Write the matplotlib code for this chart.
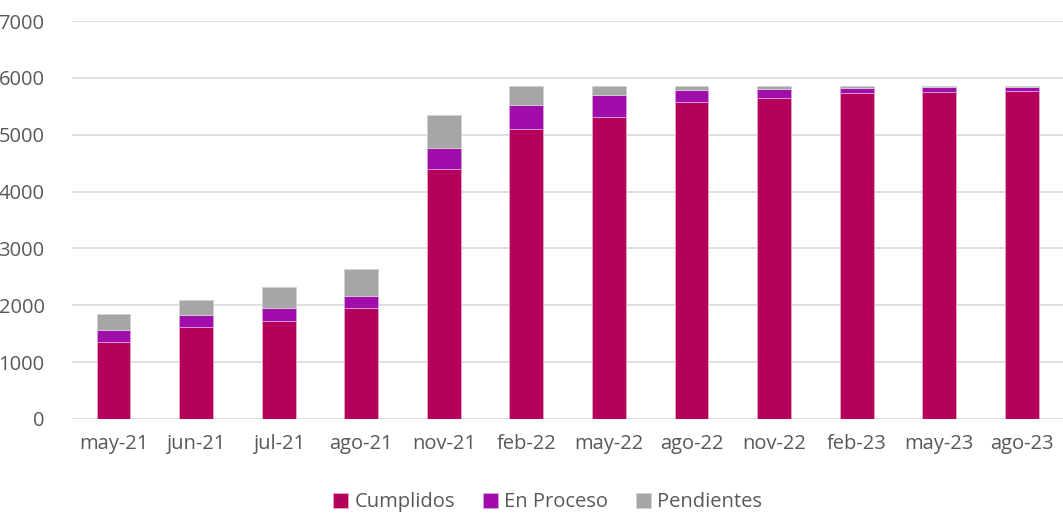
import matplotlib.pyplot as plt
import numpy as np

meses = ["may-21", "jun-21", "jul-21", "ago-21", "nov-21", "feb-22",
         "may-22", "ago-22", "nov-22", "feb-23", "may-23", "ago-23"]
cumplidos = [1350, 1615, 1720, 1945, 4400, 5105, 5320, 5580, 5645, 5735, 5760, 5775]
en_proceso = [220, 210, 230, 225, 370, 415, 380, 205, 160, 85, 75, 60]
pendientes = [280, 275, 370, 470, 575, 330, 160, 70, 50, 35, 20, 15]

plt.rcParams['font.family'] = ['Open Sans', 'DejaVu Sans']
gris_texto = "#595959"

fig = plt.figure(figsize=(10.63, 5.14), dpi=100)
ax = fig.add_axes([0.068, 0.185, 0.932, 0.774])

x = np.arange(len(meses))
ancho = 0.41
c = np.array(cumplidos)
p = np.array(en_proceso)
ax.bar(x, cumplidos, ancho, color="#B4005A", edgecolor="#E9A9C9", linewidth=0.6,
       label="Cumplidos", zorder=3)
ax.bar(x, en_proceso, ancho, bottom=c, color="#A10DAB", edgecolor="#D9A0E0",
       linewidth=0.6, label="En Proceso", zorder=3)
ax.bar(x, pendientes, ancho, bottom=c + p, color="#A6A6A6", edgecolor="#D0D0D0",
       linewidth=0.6, label="Pendientes", zorder=3)

ax.set_xlim(-0.5, len(meses) - 0.5)
ax.set_ylim(0, 7000)
ax.set_yticks(range(0, 7001, 1000))
ax.set_xticks(x)
ax.set_xticklabels(meses)
ax.yaxis.grid(True, color="#D9D9D9", linewidth=1.2, zorder=0)
ax.set_axisbelow(True)
for s in ax.spines.values():
    s.set_visible(False)
ax.tick_params(axis="both", length=0, labelsize=14.5, colors=gris_texto)
ax.tick_params(axis="x", pad=11)
ax.tick_params(axis="y", pad=20)

ax.legend(loc="lower center", bbox_to_anchor=(0.48, -0.265), ncol=3, frameon=False,
          fontsize=14.5, labelcolor=gris_texto, handlelength=0.75, handleheight=0.75,
          handletextpad=0.3, columnspacing=1.4, borderaxespad=0.2)

fig.savefig("out.png", dpi=100)
